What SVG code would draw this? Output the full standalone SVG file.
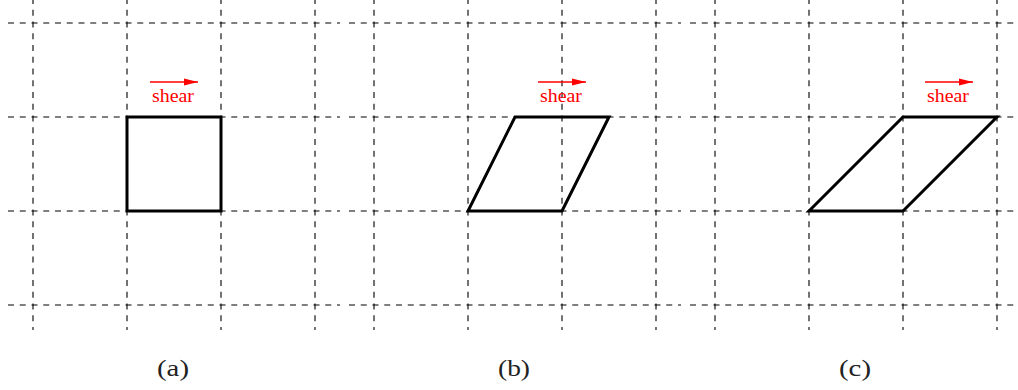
<svg xmlns="http://www.w3.org/2000/svg" width="1018" height="390" viewBox="0 0 1018 390">
<style>
.grid line{stroke:#000;stroke-width:1.1;stroke-dasharray:6 5.75;fill:none}
.shape{fill:none;stroke:#000;stroke-width:3;stroke-linejoin:miter}
.arr{stroke:#f00;stroke-width:1.4;fill:none}
.sh{font-family:"Liberation Serif",serif;font-size:19px;fill:#f00;text-anchor:middle}
.lab{font-family:"Liberation Serif",serif;font-size:23px;fill:#222;text-anchor:middle}
</style>
<defs>
<marker id="ah" markerWidth="14" markerHeight="8" refX="14" refY="4" orient="auto" markerUnits="userSpaceOnUse">
<path d="M0,0.5 L14,4 L0,7.5 Z" fill="#f00"/>
</marker>
</defs>
<g id="grids" class="grid">
<g id="grid-a">
<line x1="8" y1="23" x2="340" y2="23"/><line x1="8" y1="117" x2="340" y2="117"/><line x1="8" y1="211" x2="340" y2="211"/><line x1="8" y1="305" x2="340" y2="305"/>
<line x1="33" y1="-2" x2="33" y2="330"/><line x1="127" y1="-2" x2="127" y2="330"/><line x1="221" y1="-2" x2="221" y2="330"/><line x1="315" y1="-2" x2="315" y2="330"/>
</g>
<g id="grid-b">
<line x1="349" y1="23" x2="681" y2="23"/><line x1="349" y1="117" x2="681" y2="117"/><line x1="349" y1="211" x2="681" y2="211"/><line x1="349" y1="305" x2="681" y2="305"/>
<line x1="374" y1="-2" x2="374" y2="330"/><line x1="468" y1="-2" x2="468" y2="330"/><line x1="562" y1="-2" x2="562" y2="330"/><line x1="656" y1="-2" x2="656" y2="330"/>
</g>
<g id="grid-c">
<line x1="690" y1="23" x2="1022" y2="23"/><line x1="690" y1="117" x2="1022" y2="117"/><line x1="690" y1="211" x2="1022" y2="211"/><line x1="690" y1="305" x2="1022" y2="305"/>
<line x1="715" y1="-2" x2="715" y2="330"/><line x1="809" y1="-2" x2="809" y2="330"/><line x1="903" y1="-2" x2="903" y2="330"/><line x1="997" y1="-2" x2="997" y2="330"/>
</g>
</g>
<g id="shape-a"><polygon class="shape" points="127,117 221,117 221,211 127,211"/></g>
<g id="shape-b"><polygon class="shape" points="515,117 609,117 562,211 468,211"/></g>
<g id="shape-c"><polygon class="shape" points="903,117 997,117 903,211 809,211"/></g>
<g id="connectors">
<line class="arr" x1="150" y1="82" x2="198" y2="82" marker-end="url(#ah)"/>
<line class="arr" x1="538" y1="82" x2="586" y2="82" marker-end="url(#ah)"/>
<line class="arr" x1="925" y1="82" x2="973" y2="82" marker-end="url(#ah)"/>
</g>
<g id="shear-labels">
<text class="sh" x="173" y="102" textLength="42" lengthAdjust="spacingAndGlyphs">shear</text>
<text class="sh" x="561" y="102" textLength="42" lengthAdjust="spacingAndGlyphs">shear</text>
<text class="sh" x="948" y="102" textLength="42" lengthAdjust="spacingAndGlyphs">shear</text>
</g>
<g id="captions">
<text class="lab" x="173" y="376" textLength="32" lengthAdjust="spacingAndGlyphs">(a)</text>
<text class="lab" x="514" y="376" textLength="32" lengthAdjust="spacingAndGlyphs">(b)</text>
<text class="lab" x="855" y="376" textLength="32" lengthAdjust="spacingAndGlyphs">(c)</text>
</g>
</svg>
